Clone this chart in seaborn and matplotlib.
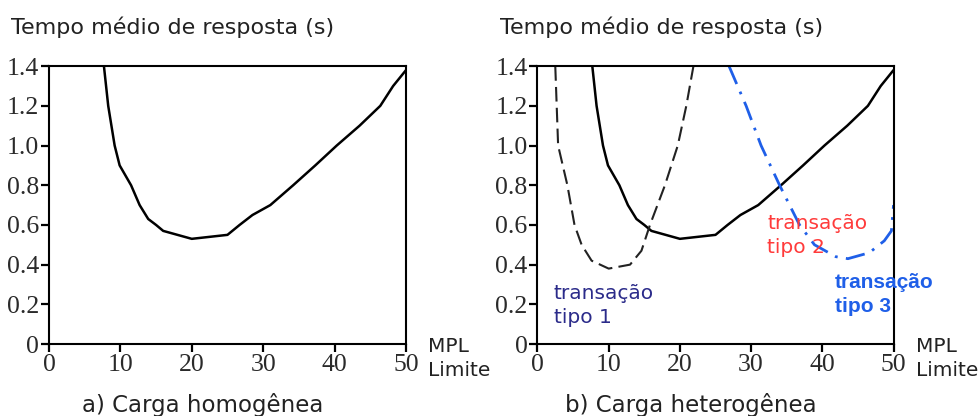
import numpy as np
import pandas as pd
import seaborn as sns
import matplotlib.pyplot as plt

# --- data ---
# whole load (same curve in both panels)
mpl_total = [7.7, 8.3, 9.2, 9.9, 11.5, 12.7, 13.9, 15.0, 16.0, 18.0, 20.0, 22.5, 25.0, 26.7, 28.5, 31.0, 34.2, 37.3, 40.3, 43.5, 46.4, 48.2, 50.0]
tempo_total = [1.40, 1.20, 1.00, 0.90, 0.80, 0.70, 0.63, 0.60, 0.57, 0.55, 0.53, 0.54, 0.55, 0.60, 0.65, 0.70, 0.80, 0.90, 1.00, 1.10, 1.20, 1.30, 1.38]

# transaction type 1 (dashed)
mpl_t1 = [2.5, 2.9, 4.2, 5.2, 6.2, 7.6, 10.0, 13.0, 14.6, 15.8, 17.9, 19.7, 20.9, 21.9]
tempo_t1 = [1.40, 1.00, 0.80, 0.60, 0.50, 0.42, 0.38, 0.40, 0.47, 0.60, 0.80, 1.00, 1.20, 1.40]

# transaction type 3 (dash-dot, blue)
mpl_t3 = [26.9, 29.3, 31.4, 34.0, 36.8, 38.9, 41.9, 43.6, 46.6, 48.7, 49.7, 50.0]
tempo_t3 = [1.40, 1.20, 1.00, 0.80, 0.60, 0.50, 0.44, 0.43, 0.46, 0.52, 0.57, 0.70]

x_ticks = [0, 10, 20, 30, 40, 50]
y_ticks = [0, 0.2, 0.4, 0.6, 0.8, 1.0, 1.2, 1.4]
y_labels = ["0", "0.2", "0.4", "0.6", "0.8", "1.0", "1.2", "1.4"]

sns.set_style("white")
plt.rcParams['font.family'] = ['DejaVu Sans']

fig = plt.figure(figsize=(9.79, 4.16), dpi=100)
ax1 = fig.add_axes([0.050, 0.173, 0.3647, 0.668])
ax2 = fig.add_axes([0.549, 0.173, 0.3637, 0.668])

df_total = pd.DataFrame({"mpl": mpl_total, "tempo": tempo_total})
df_t1 = pd.DataFrame({"mpl": mpl_t1, "tempo": tempo_t1})
df_t3 = pd.DataFrame({"mpl": mpl_t3, "tempo": tempo_t3})

sns.lineplot(data=df_total, x="mpl", y="tempo", ax=ax1, color="black", lw=1.8, sort=False)
sns.lineplot(data=df_total, x="mpl", y="tempo", ax=ax2, color="black", lw=1.8, sort=False)
sns.lineplot(data=df_t1, x="mpl", y="tempo", ax=ax2, color="#222222", lw=1.5, sort=False,
             dashes=False, linestyle=(0, (7, 3)))
sns.lineplot(data=df_t3, x="mpl", y="tempo", ax=ax2, color="#1f5fe8", lw=2.0, sort=False,
             dashes=False, linestyle=(0, (7, 3, 1, 3)))

for ax, sub in [(ax1, "a) Carga homogênea"), (ax2, "b) Carga heterogênea")]:
    ax.set_xlim(0, 50)
    ax.set_ylim(0, 1.4)
    ax.set_xticks(x_ticks)
    ax.set_yticks(y_ticks)
    ax.set_yticklabels(y_labels)
    for lab in ax.get_xticklabels() + ax.get_yticklabels():
        lab.set_family("Liberation Serif")
        lab.set_fontsize(18.5)
        lab.set_color("#2a2a2a")
    ax.tick_params(axis="both", direction="out", length=6, width=1.6, color="black",
                   bottom=True, left=True, pad=1)
    for s in ax.spines.values():
        s.set_color("black")
        s.set_linewidth(1.5)
    ax.set_xlabel("")
    ax.set_ylabel("")
    ax.text(-0.105, 1.14, "Tempo médio de resposta (s)", transform=ax.transAxes,
            fontsize=16, color="#222222", ha="left", va="center")
    ax.text(1.062, -0.01, "MPL", transform=ax.transAxes, fontsize=14.5, color="#222222",
            ha="left", va="center")
    ax.text(1.062, -0.095, "Limite", transform=ax.transAxes, fontsize=14.5, color="#222222",
            ha="left", va="center")
    ax.text(0.43, -0.22, sub, transform=ax.transAxes, fontsize=16.5, color="#222222",
            ha="center", va="center")

ax2.text(2.3, 0.30, "transação\ntipo 1", color="#2b2b8a", fontsize=14.5, va="top",
         linespacing=1.3)
ax2.text(32.3, 0.655, "transação\ntipo 2", color="#ff3b3b", fontsize=14.5, va="top",
         linespacing=1.3)
ax2.text(41.8, 0.36, "transação\ntipo 3", color="#1f5fe8", fontsize=15, va="top",
         fontweight="bold", family="Liberation Sans", linespacing=1.35, clip_on=False)

plt.savefig("out.png", dpi=100)
